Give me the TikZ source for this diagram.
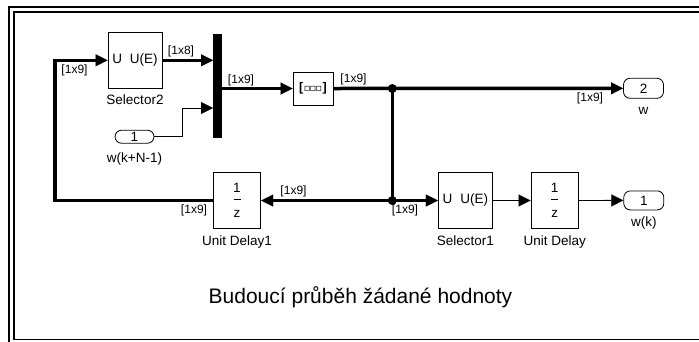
\documentclass[tikz,border=0pt]{standalone}
\usepackage{fontspec}
\setmainfont{Liberation Sans}
\newfontfamily\symfont{DejaVu Sans}
\usetikzlibrary{positioning, arrows.meta}

\tikzset{
  block/.style={draw, line width=0.8pt, inner sep=0pt, minimum width=54pt, minimum height=56pt,
    align=center, font=\fontsize{13.5}{12.75}\selectfont},
  port/.style={draw, line width=0.8pt, rounded corners=6.5pt, inner sep=0pt, minimum width=40pt,
    minimum height=19pt, font=\fontsize{13.5}{14}\selectfont},
  blockname/.style={inner sep=0pt, text height=9.5pt, text depth=2.5pt, font=\fontsize{13.5}{14}\selectfont},
  sizelabel/.style={inner sep=0pt, font=\fontsize{12}{12}\selectfont},
  busline/.style={line width=3.5pt},
  sigline/.style={line width=0.9pt},
  arrowed/.style={-{Triangle[length=12pt,width=12pt,line width=0.1pt]}},
  junction/.style={circle, fill, inner sep=0pt, minimum size=9pt},
  muxbar/.style={fill, inner sep=0pt, minimum width=8.5pt, minimum height=104pt},
}

\begin{document}
\begin{tikzpicture}[x=1pt, y=-1pt]
    \useasboundingbox (0,0) rectangle (699,341);
    % frame of the subsystem
    \begin{scope}
        \clip (0,0) rectangle (699,341);
        \draw[line width=2pt] (9,7) rectangle (712,346);
        \draw[line width=1.6pt] (14,12) rectangle (706,339.5);
    \end{scope}

    %blocks
    \node (sel2) [block] at (135,60.3) {U\hspace{8pt}U(E)};
    \node (sel2name) [blockname, below=6.5pt of sel2] {Selector2};
    \node (mux) [muxbar] at (217.5,85.5) {};
    \node (inw) [port, minimum width=39pt, minimum height=13pt] at (134.5,136.7) {1};
    \node (inwname) [blockname, below=9pt of inw] {w(k+N-1)};
    \node (cat) [draw, line width=0.8pt, inner sep=0pt, minimum width=40pt, minimum height=33pt,
        font=\fontsize{12.5}{12.5}\selectfont] at (313,88.5)
        {\textbf{[}\hspace{0.5pt}{\symfont\bfseries\fontsize{10}{10}\selectfont ▫\hspace{-1pt}▫\hspace{-1pt}▫}\hspace{0.5pt}\textbf{]}};
    \node (out2) [port, minimum height=20pt] at (643.5,88.3) {2};
    \node (out2name) [blockname, below=5.8pt of out2] {w};

    \node (ud1) [block, minimum width=47.5pt] at (237,200.5) {1\\\rule[5.3pt]{7pt}{0.8pt}\\z};
    \node (ud1name) [blockname, below=7pt of ud1] {Unit Delay1};
    \node (sel1) [block] at (465.3,200.5) {U\hspace{8pt}U(E)};
    \node (sel1name) [blockname, below=7pt of sel1] {Selector1};
    \node (ud) [block, minimum width=47.5pt] at (554.7,200.5) {1\\\rule[5.3pt]{7pt}{0.8pt}\\z};
    \node (udname) [blockname, below=7pt of ud] {Unit Delay};
    \node (out1) [port] at (643.8,200.4) {1};
    \node (out1name) [blockname, below=6.5pt of out1] {w(k)};

    \coordinate (br1) at (392.3,88.5);
    \coordinate (br2) at (392.3,200.5);
    \coordinate (fb) at (55,130);
    \coordinate (muxin2) at ([yshift=-22.5pt]mux.west);

    %signals
    \draw[busline, arrowed] (sel2.east) -- (sel2.east -| mux.west);
    \draw[sigline, arrowed] (inw.east) -- ++(28,0) |- (muxin2);
    \draw[busline, arrowed] (mux.east |- cat.west) -- (cat.west);
    \draw[busline, arrowed] (cat.east) -- (out2.west);
    \draw[busline] (br1) -- (br2);
    \draw[busline, arrowed] (br2) -- (ud1.east);
    \draw[busline, arrowed] (br2) -- (sel1.west);
    \draw[busline, arrowed] (ud1.west) -| (fb) |- (sel2.west);
    \draw[sigline, arrowed] (sel1.east) -- (ud.west);
    \draw[sigline, arrowed] (ud.east) -- (out1.west);
    \node (br1dot) [junction] at (br1) {};
    \node (br2dot) [junction] at (br2) {};

    %signal sizes
    \node (d1) [sizelabel] at (74.5,70) {[1x9]};
    \node (d2) [sizelabel] at (181,51.5) {[1x8]};
    \node (d3) [sizelabel] at (241,80) {[1x9]};
    \node (d4) [sizelabel] at (353.5,79) {[1x9]};
    \node (d5) [sizelabel] at (590,98) {[1x9]};
    \node (d6) [sizelabel] at (293.5,191.5) {[1x9]};
    \node (d7) [sizelabel] at (405,210.5) {[1x9]};
    \node (d8) [sizelabel] at (194,210.5) {[1x9]};

    \node (caption) [font=\fontsize{21}{24}\selectfont, anchor=base] at (360.5,303)
        {Budoucí průběh žádané hodnoty};
\end{tikzpicture}
\end{document}
